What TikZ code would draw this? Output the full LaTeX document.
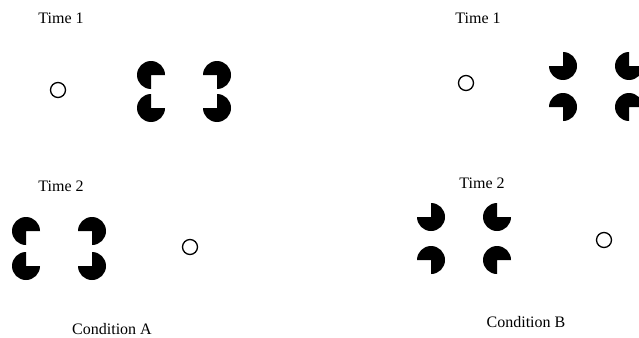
\documentclass[tikz,border=0pt]{standalone}
\usepackage{fontspec}
\setmainfont{Liberation Serif}
\tikzset{
  lbl/.style={font=\fontsize{16}{18}\selectfont, inner sep=0pt, anchor=center},
  ring/.style={circle, draw, line width=1.3pt, minimum size=15pt, inner sep=0pt},
}
% #1,#2 centre; #3 start angle of the missing quadrant (y axis points down)
\newcommand\pacman[3]{\fill (#1,#2) -- ++(#3+90:14) arc[start angle=#3+90, delta angle=270, radius=14] -- cycle;}
\begin{document}
\begin{tikzpicture}[x=1pt,y=-1pt]
\useasboundingbox (0,0) rectangle (639,337);
% Condition A
\node[lbl] (tA1) at (61,18) {Time 1};
\node[ring] (cA1) at (58,90) {};
\pacman{151}{75}{0}
\pacman{217}{75}{90}
\pacman{151}{108}{270}
\pacman{217}{108}{180}
\node[lbl] (tA2) at (61,186) {Time 2};
\pacman{26}{231}{0}
\pacman{92}{231}{90}
\pacman{26}{266}{270}
\pacman{92}{266}{180}
\node[ring] (cA2) at (190,247) {};
\node[lbl] (condA) at (112,329) {Condition A};
% Condition B
\node[lbl] (tB1) at (478,18) {Time 1};
\node[ring] (cB1) at (466,83) {};
\pacman{563}{66}{180}
\pacman{629}{66}{270}
\pacman{563}{107}{90}
\pacman{629}{107}{0}
\node[lbl] (tB2) at (482,183) {Time 2};
\pacman{431}{217}{180}
\pacman{497}{217}{270}
\pacman{431}{260}{90}
\pacman{497}{260}{0}
\node[ring] (cB2) at (604,240) {};
\node[lbl] (condB) at (526,322) {Condition B};
\end{tikzpicture}
\end{document}
